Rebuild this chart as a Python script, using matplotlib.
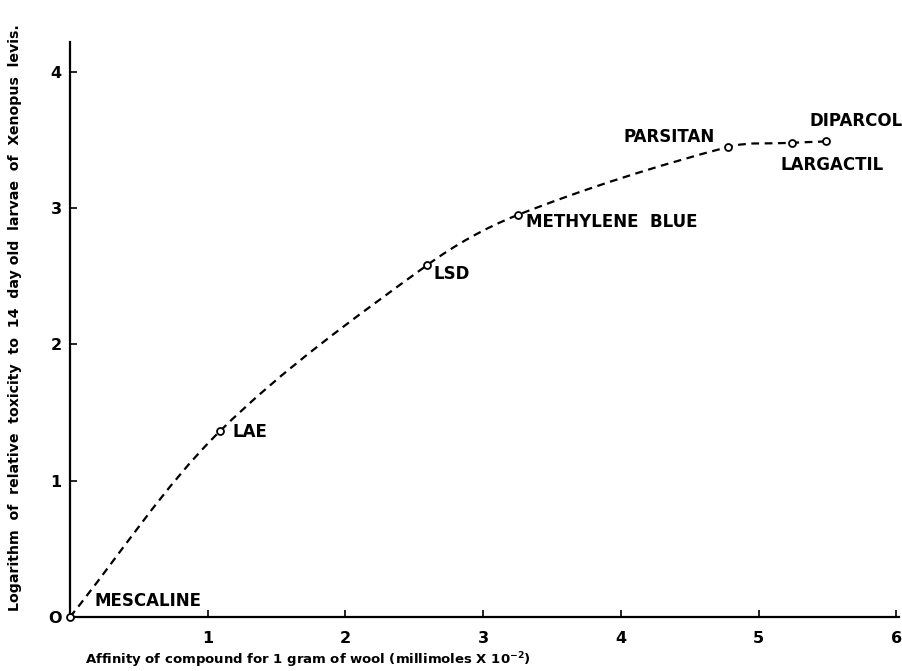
import numpy as np
import matplotlib.pyplot as plt
from matplotlib.path import Path
from matplotlib.patches import PathPatch

# compounds, wool affinity (mmol x 10^-2) and log relative toxicity
compounds = ['MESCALINE', 'LAE', 'LSD', 'METHYLENE  BLUE', 'PARSITAN', 'LARGACTIL', 'DIPARCOL']
affinity = [0.0, 1.09, 2.59, 3.25, 4.78, 5.24, 5.49]
log_toxicity = [0.0, 1.365, 2.58, 2.95, 3.45, 3.48, 3.49]

xticks = [1, 2, 3, 4, 5, 6]
yticks = [0, 1, 2, 3, 4]

plt.rcParams['font.family'] = ['DejaVu Sans']
plt.rcParams['font.weight'] = 'bold'

fig = plt.figure(figsize=(9.03, 6.71), dpi=100)
ax = fig.add_axes([70 / 903, 54 / 671, 829 / 903, 575 / 671])

# smooth dashed curve through the points: cubic Bezier segments whose
# handles follow the local direction and scale with segment length
pts = np.column_stack([affinity, log_toxicity])
n = len(pts)
tangents = []
for i in range(n):
    a = pts[max(i - 1, 0)]
    b = pts[min(i + 1, n - 1)]
    d = b - a
    tangents.append(d / np.hypot(*d))
verts = [tuple(pts[0])]
codes = [Path.MOVETO]
for i in range(n - 1):
    seg = np.hypot(*(pts[i + 1] - pts[i])) / 3
    verts += [tuple(pts[i] + tangents[i] * seg),
              tuple(pts[i + 1] - tangents[i + 1] * seg),
              tuple(pts[i + 1])]
    codes += [Path.CURVE4] * 3
ax.add_patch(PathPatch(Path(verts, codes), facecolor='none', edgecolor='black',
                       linewidth=1.6, linestyle=(0, (3.5, 2.5)), clip_on=False))

ax.plot(affinity, log_toxicity, linestyle='none',
        marker='o', markersize=5, markerfacecolor='white', markeredgecolor='black',
        markeredgewidth=1.3, clip_on=False, zorder=3)

# label offsets in points, relative to each point
offsets = [(18, 5, 'left', 'bottom'),
           (9, -1, 'left', 'center'),
           (5, -6, 'left', 'center'),
           (6, -5, 'left', 'center'),
           (-10, 7, 'right', 'center'),
           (-8, -16, 'left', 'center'),
           (55, 15, 'right', 'center')]
for name, x, y, (dx, dy, ha, va) in zip(compounds, affinity, log_toxicity, offsets):
    ax.annotate(name, (x, y), xytext=(dx, dy), textcoords='offset points',
                ha=ha, va=va, fontsize=12, fontweight='bold')

ax.set_xlim(0, 6.02)
ax.set_ylim(0, 4.22)
ax.set_xticks(xticks)
ax.set_yticks(yticks)
ax.set_yticklabels(['O', '1', '2', '3', '4'])
ax.tick_params(axis='both', direction='in', length=5, width=1.2, labelsize=11.5)
ax.tick_params(axis='x', pad=10)
ax.tick_params(axis='y', pad=6)

for side in ['top', 'right']:
    ax.spines[side].set_visible(False)
for side in ['left', 'bottom']:
    ax.spines[side].set_linewidth(1.6)

fig.text(85 / 903, 1 - 660 / 671,
         'Affinity of compound for 1 gram of wool (millimoles X 10$^{\\mathbf{-2}}$)',
         fontsize=9.5, fontweight='bold', ha='left', va='center')
ax.set_ylabel('Logarithm  of  relative  toxicity  to  14  day old  larvae  of  Xenopus  levis.',
              fontsize=10.2, fontweight='bold')
ax.yaxis.set_label_coords(-0.058, 0.52)

fig.savefig('out.png', dpi=100)
